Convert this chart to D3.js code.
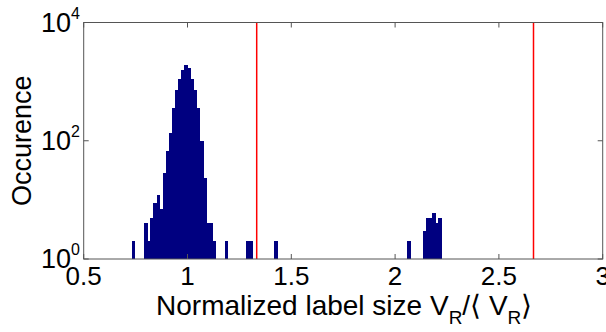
<!DOCTYPE html>
<html>
<head>
<meta charset="utf-8">
<script src="https://cdn.jsdelivr.net/npm/d3@7/dist/d3.min.js"></script>
<style>
  html, body { margin: 0; padding: 0; background: #fff; }
  svg { display: block; }
  text { font-family: "Liberation Sans", Arial, sans-serif; fill: #000; }
</style>
</head>
<body>
<svg id="chart" width="606" height="332"></svg>
<script>
// ---- data ----
const binWidth = 0.0149;
const binCenters = [
  0.7405,
  0.8001, 0.8150, 0.8299, 0.8448, 0.8597, 0.8746, 0.8895, 0.9044, 0.9193,
  0.9342, 0.9491, 0.9640, 0.9789, 0.9938, 1.0087, 1.0236, 1.0385, 1.0534,
  1.0683, 1.0832, 1.0981, 1.1130, 1.1279,
  1.1875, 1.2918, 1.3067, 1.4259,
  2.0666, 2.1411, 2.1560, 2.1709, 2.1858, 2.2007, 2.2156
];
const binCounts = [
  2,
  4, 2, 5, 9, 12, 7, 28, 68, 134,
  354, 725, 1110, 1580, 1920, 1725, 1110, 725, 354,
  99, 23, 4, 4, 2,
  2, 2, 2, 2,
  2, 3, 5, 5, 6, 4, 5
];
const thresholds = [4 / 3, 8 / 3];
const xTicks = [0.5, 1, 1.5, 2, 2.5, 3];
const xTickLabels = ["0.5", "1", "1.5", "2", "2.5", "3"];
const yTicks = [1, 100, 10000];
const yTickExponents = ["0", "2", "4"];

// ---- layout ----
const pL = 83.7, pR = 602.7, pT = 22.5, pB = 259;
const svg = d3.select("#chart");

const x = d3.scaleLinear().domain([0.5, 3]).range([pL, pR]);
const y = d3.scaleLog().domain([1, 10000]).range([pB, pT]);

// bars
const bars = binCenters.map((c, i) => ({ c, n: binCounts[i] }));
svg.append("g").attr("shape-rendering", "crispEdges")
  .selectAll("rect").data(bars).join("rect")
  .attr("x", d => x(d.c - binWidth / 2) - 0.3)
  .attr("width", d => x(d.c + binWidth / 2) - x(d.c - binWidth / 2) + 0.6)
  .attr("y", d => y(d.n))
  .attr("height", d => y(1) - y(d.n))
  .attr("fill", "#000080");

// red threshold lines
svg.append("g").selectAll("line").data(thresholds).join("line")
  .attr("x1", d => x(d)).attr("x2", d => x(d))
  .attr("y1", pT).attr("y2", pB)
  .attr("stroke", "#ff0000").attr("stroke-width", 1.5);

// axes frame
const axisColor = "#555";
const frame = svg.append("g");
frame.append("rect")
  .attr("x", pL).attr("y", pT)
  .attr("width", pR - pL).attr("height", pB - pT)
  .attr("fill", "none").attr("stroke", axisColor).attr("stroke-width", 1);

const tl = 5;
frame.selectAll(".xt").data(xTicks).join("line").attr("class", "xt")
  .attr("x1", d => x(d)).attr("x2", d => x(d))
  .attr("y1", pB).attr("y2", pB - tl)
  .attr("stroke", axisColor);
frame.selectAll(".xtt").data(xTicks).join("line").attr("class", "xtt")
  .attr("x1", d => x(d)).attr("x2", d => x(d))
  .attr("y1", pT).attr("y2", pT + tl)
  .attr("stroke", axisColor);
frame.selectAll(".yt").data(yTicks).join("line").attr("class", "yt")
  .attr("x1", pL).attr("x2", pL + tl)
  .attr("y1", d => y(d)).attr("y2", d => y(d))
  .attr("stroke", axisColor);
frame.selectAll(".ytr").data(yTicks).join("line").attr("class", "ytr")
  .attr("x1", pR).attr("x2", pR - tl)
  .attr("y1", d => y(d)).attr("y2", d => y(d))
  .attr("stroke", axisColor);

// x tick labels
svg.append("g").selectAll("text").data(xTicks).join("text")
  .attr("x", d => x(d))
  .attr("y", 285)
  .attr("text-anchor", "middle")
  .attr("font-size", 26)
  .text((d, i) => xTickLabels[i]);

// y tick labels: 10^n
const yl = svg.append("g").selectAll("text").data(yTicks).join("text")
  .attr("x", 80)
  .attr("y", d => y(d) + 9)
  .attr("text-anchor", "end")
  .attr("font-size", 27);
yl.append("tspan").text("10");
yl.append("tspan").attr("font-size", 16).attr("dy", -13).text((d, i) => yTickExponents[i]);

// y axis label
svg.append("text")
  .attr("transform", `translate(31, ${(pT + pB) / 2}) rotate(-90)`)
  .attr("text-anchor", "middle")
  .attr("font-size", 27)
  .text("Occurence");

// x axis label: Normalized label size V_R/⟨ V_R⟩
const xl = svg.append("text")
  .attr("x", (pL + pR) / 2 + 1)
  .attr("y", 315)
  .attr("text-anchor", "middle")
  .attr("font-size", 28);
xl.append("tspan").text("Normalized label size V");
xl.append("tspan").attr("font-size", 19).attr("dy", 9).text("R");
xl.append("tspan").attr("dy", -9).text("/\u27E8 V");
xl.append("tspan").attr("font-size", 19).attr("dy", 9).text("R");
xl.append("tspan").attr("dy", -9).text("\u27E9");
</script>
</body>
</html>
